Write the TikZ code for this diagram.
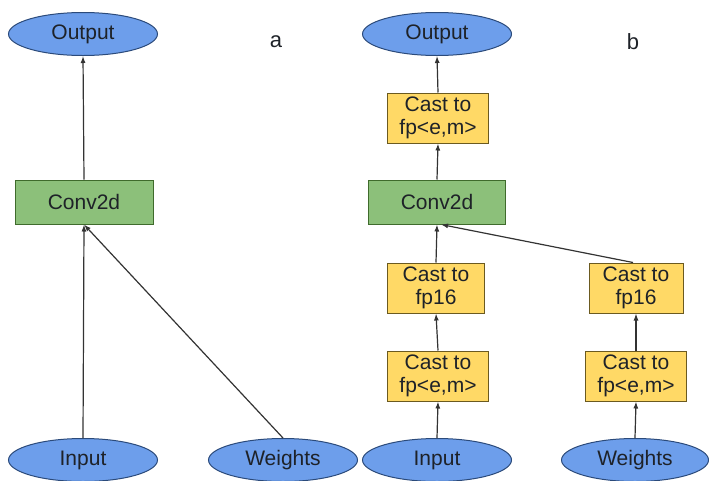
\documentclass[tikz,border=0pt]{standalone}
\usepackage{fontspec}
\setmainfont{Liberation Sans}
\usetikzlibrary{shapes.geometric,arrows.meta}
\definecolor{ellfill}{HTML}{6D9EEB}
\definecolor{elldraw}{HTML}{2B4A7A}
\definecolor{grfill}{HTML}{8CC07A}
\definecolor{grdraw}{HTML}{3F6B2C}
\definecolor{yefill}{HTML}{FFD966}
\definecolor{yedraw}{HTML}{6B5A20}
\definecolor{txt}{HTML}{1E2228}
\definecolor{edge}{HTML}{333333}
\begin{document}
\begin{tikzpicture}[x=1pt,y=-1pt,
  every node/.style={font=\fontsize{21}{23}\selectfont, text=txt, inner sep=0pt, align=center},
  ell/.style={ellipse, fill=ellfill, draw=elldraw, line width=1pt, minimum width=149pt, minimum height=43pt},
  convbox/.style={rectangle, fill=grfill, draw=grdraw, line width=1pt, minimum width=138pt, minimum height=44pt},
  castbox/.style={rectangle, fill=yefill, draw=yedraw, line width=1pt, minimum width=101pt, minimum height=50pt},
  narrowcast/.style={castbox, minimum width=97pt},
  arr/.style={draw=edge, line width=1.2pt, -{Latex[length=7pt,width=5pt]}},
  panel/.style={font=\fontsize{22}{24}\selectfont}]
\useasboundingbox (0,0) rectangle (709,480);
% panel a
\node[ell] (outL) at (83,34) {Output};
\node[panel] (la) at (276,42) {a};
\node[convbox] (convL) at (84,202) {Conv2d};
\node[ell] (inL) at (83,460) {Input};
\node[ell] (wL) at (283,460) {Weights};
\draw[arr] (convL.north) -- (outL.south);
\draw[arr] (inL.north) -- (convL.south);
\draw[arr] (wL.north) -- (convL.south);
% panel b
\node[ell] (outR) at (437,34) {Output};
\node[panel] (lb) at (633,42) {b};
\node[castbox] (castTop) at (438,118) {Cast to\\fp<e,m>};
\node[convbox, minimum width=137pt] (convR) at (437,202) {Conv2d};
\node[narrowcast] (c16L) at (436,288) {Cast to\\fp16};
\node[castbox] (cfpL) at (438,376) {Cast to\\fp<e,m>};
\node[ell] (inR) at (437,460) {Input};
\node[narrowcast, minimum width=94pt] (c16R) at (636,288) {Cast to\\fp16};
\node[castbox] (cfpR) at (636,376) {Cast to\\fp<e,m>};
\node[ell, minimum width=147pt] (wR) at (635,460) {Weights};
\draw[arr] (castTop.north) -- (outR.south);
\draw[arr] (convR.north) -- (castTop.south);
\draw[arr] (c16L.north) -- (convR.south);
\draw[arr] (cfpL.north) -- (c16L.south);
\draw[arr] (inR.north) -- (cfpL.south);
\draw[arr] ([xshift=-3pt]c16R.north) -- ([xshift=4pt]convR.south);
\draw[arr] (cfpR.north) -- (c16R.south);
\draw[arr] (wR.north) -- (cfpR.south);
\end{tikzpicture}
\end{document}
